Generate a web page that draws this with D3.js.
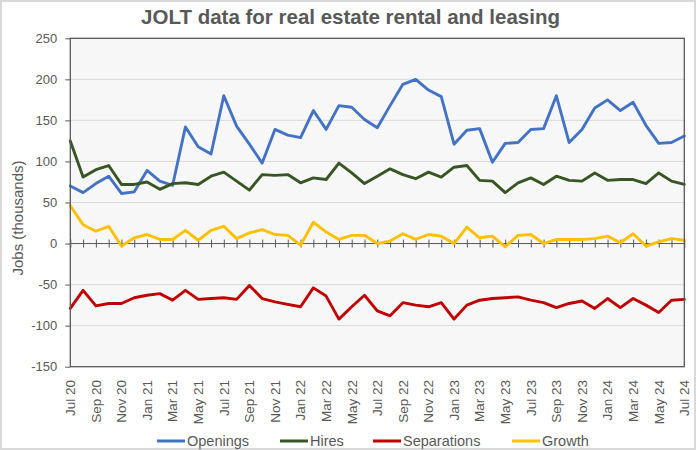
<!DOCTYPE html>
<html>
<head>
<meta charset="utf-8">
<script src="https://cdn.jsdelivr.net/npm/d3@7"></script>
<style>
  html, body { margin: 0; padding: 0; background: #fff; }
  svg { display: block; }
  text { font-family: "Liberation Sans", Arial, sans-serif; fill: #595959; }
</style>
</head>
<body>
<svg id="chart" width="696" height="450"></svg>
<script>
const title = "JOLT data for real estate rental and leasing";
const yTitle = "Jobs (thousands)";
const months = ["Jul 20","Aug 20","Sep 20","Oct 20","Nov 20","Dec 20",
  "Jan 21","Feb 21","Mar 21","Apr 21","May 21","Jun 21","Jul 21","Aug 21","Sep 21","Oct 21","Nov 21","Dec 21",
  "Jan 22","Feb 22","Mar 22","Apr 22","May 22","Jun 22","Jul 22","Aug 22","Sep 22","Oct 22","Nov 22","Dec 22",
  "Jan 23","Feb 23","Mar 23","Apr 23","May 23","Jun 23","Jul 23","Aug 23","Sep 23","Oct 23","Nov 23","Dec 23",
  "Jan 24","Feb 24","Mar 24","Apr 24","May 24","Jun 24","Jul 24"];
const yTicks = [250,200,150,100,50,0,-50,-100,-150];

const openings = [70,62,73,82,61,63,89,76,71,142,118,109,180,143,121,98,139,
  132,129,162,139,168,166,151,141,168,194,200,187,179,121,138,140,
  99,122,123,139,140,180,123,139,165,175,162,172,144,122,123,131];
const hires = [125,81,90,95,72,72,75,66,73,74,72,82,87,76,65,84,83,
  84,74,80,78,98,86,73,82,91,84,79,87,81,93,95,77,
  76,62,74,80,72,82,77,76,86,77,78,78,73,86,76,72];
const separations = [-79,-57,-76,-73,-73,-66,-63,-61,-69,-57,-68,-67,-66,-68,-51,-67,-71,-74,-77,-54,-64,-92,-77,-63,-82,
  -88,-72,-75,-77,-72,-92,-75,-69,-67,-66,-65,-69,-72,-78,-73,-70,-79,-67,-78,-67,-75,-84,-69,-68];
const growth = [46,23,15,21,-3,7,11,5,5,16,4,16,21,6,13,17,11,
  10,-2,26,14,5,10,10,0,3,12,5,11,9,0,20,7,
  9,-4,10,11,0,5,5,5,6,9,1,12,-3,2,6,4];

const seriesNames = ["Openings","Hires","Separations","Growth"];
const seriesColors = ["#4472C4","#375623","#C00000","#FFC000"];
const seriesData = [openings, hires, separations, growth];

const svg = d3.select("#chart");
const W = 696, H = 450;
const L = 70.3, R = 684.3, T = 38.3, B = 366.7;

// outer frame
svg.append("rect").attr("x",1).attr("y",1).attr("width",W-2).attr("height",H-2)
  .attr("fill","#fff").attr("stroke","#d9d9d9").attr("stroke-width",2);

const x = d3.scalePoint().domain(months).range([L, R]);
const y = d3.scaleLinear().domain([-150, 250]).range([B, T]);

// plot background
svg.append("rect").attr("x",L).attr("y",T).attr("width",R-L).attr("height",B-T)
  .attr("fill","#f7f7f7");

// gridlines
svg.append("g").selectAll("line").data(yTicks.filter(v => v !== 0 && v !== 250 && v !== -150))
  .join("line")
  .attr("x1",L).attr("x2",R)
  .attr("y1",d => y(d)).attr("y2",d => y(d))
  .attr("stroke","#d9d9d9").attr("stroke-width",1);

// y axis
const yAxis = d3.axisLeft(y).tickValues(yTicks).tickSize(5).tickPadding(8).tickFormat(d => String(d));
const gy = svg.append("g").attr("transform",`translate(${L},0)`).call(yAxis);
gy.select(".domain").remove();
gy.selectAll(".tick line").attr("stroke","#595959");
gy.selectAll(".tick text").attr("font-size","13px").attr("fill","#595959")
  .style("font-family","'Liberation Sans', Arial, sans-serif");

// x axis at zero with cross ticks
const xAxis = d3.axisBottom(x).tickSize(4).tickFormat("");
const gx = svg.append("g").attr("transform",`translate(0,${y(0)})`).call(xAxis);
gx.select(".domain").attr("stroke","#595959").attr("d",`M${L},0H${R}`);
gx.selectAll(".tick line").attr("stroke","#595959").attr("y1",-4).attr("y2",4);

// x labels at bottom
svg.append("g").selectAll("text").data(months.filter((m,i) => i % 2 === 0))
  .join("text")
  .attr("transform", d => `translate(${x(d)+4.8},380) rotate(-90)`)
  .attr("text-anchor","end")
  .attr("font-size","13.5px")
  .text(d => d);

// lines
const line = d3.line().x((d,i) => x(months[i])).y(d => y(d));
seriesData.forEach((s, k) => {
  svg.append("path").datum(s)
    .attr("fill","none")
    .attr("stroke",seriesColors[k])
    .attr("stroke-width",2.9)
    .attr("stroke-linejoin","round")
    .attr("stroke-linecap","round")
    .attr("d",line);
});

// plot border
svg.append("rect").attr("x",L).attr("y",T).attr("width",R-L).attr("height",B-T)
  .attr("fill","none").attr("stroke","#595959").attr("stroke-width",1.3);

// title
svg.append("text").attr("x",350.5).attr("y",24)
  .attr("text-anchor","middle").attr("font-size","20.5px").attr("font-weight","bold")
  .text(title);

// y title
svg.append("text").attr("transform","translate(23,218) rotate(-90)")
  .attr("text-anchor","middle").attr("font-size","15px")
  .text(yTitle);

// legend
const legendX = [157, 280, 373, 512];
const lg = svg.append("g");
seriesNames.forEach((n, k) => {
  lg.append("line").attr("x1",legendX[k]).attr("x2",legendX[k]+28)
    .attr("y1",441).attr("y2",441)
    .attr("stroke",seriesColors[k]).attr("stroke-width",3);
  lg.append("text").attr("x",legendX[k]+30).attr("y",446)
    .attr("font-size","14.5px").text(n);
});
</script>
</body>
</html>
